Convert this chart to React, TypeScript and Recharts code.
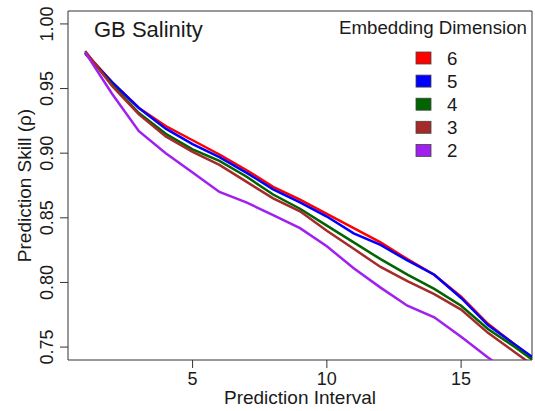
import React from "react";
import {
  LineChart, Line, XAxis, YAxis, ReferenceArea, Legend
} from "recharts";

const intervals = [1, 2, 3, 4, 5, 6, 7, 8, 9, 10, 11, 12, 13, 14, 15, 16, 17, 18];

const dim6 = [0.978, 0.955, 0.935, 0.921, 0.910, 0.899, 0.887, 0.874, 0.864, 0.853, 0.842, 0.831, 0.818, 0.806, 0.789, 0.768, 0.752, 0.736];
const dim5 = [0.977, 0.955, 0.935, 0.919, 0.907, 0.897, 0.885, 0.872, 0.862, 0.851, 0.838, 0.829, 0.817, 0.806, 0.788, 0.767, 0.752, 0.737];
const dim4 = [0.978, 0.953, 0.931, 0.915, 0.903, 0.894, 0.882, 0.868, 0.857, 0.844, 0.831, 0.818, 0.806, 0.795, 0.782, 0.764, 0.750, 0.735];
const dim3 = [0.979, 0.952, 0.930, 0.913, 0.901, 0.891, 0.878, 0.865, 0.855, 0.840, 0.826, 0.812, 0.801, 0.791, 0.779, 0.761, 0.746, 0.731];
const dim2 = [0.978, 0.946, 0.917, 0.900, 0.885, 0.870, 0.862, 0.852, 0.842, 0.828, 0.811, 0.796, 0.782, 0.773, 0.758, 0.742, 0.727, 0.712];

const xTicks = [5, 10, 15];
const yTicks = [0.75, 0.8, 0.85, 0.9, 0.95, 1.0];
const X_DOMAIN: [number, number] = [0.36, 17.64];
const Y_DOMAIN: [number, number] = [0.74, 1.01];

const SERIES = [
  { key: "d6", name: "6", color: "#FF0000", values: dim6 },
  { key: "d5", name: "5", color: "#0000FF", values: dim5 },
  { key: "d4", name: "4", color: "#006400", values: dim4 },
  { key: "d3", name: "3", color: "#A52A2A", values: dim3 },
  { key: "d2", name: "2", color: "#A020F0", values: dim2 },
];

const data = intervals.map((x, i) => {
  const row: any = { x };
  SERIES.forEach(s => { row[s.key] = s.values[i]; });
  return row;
});

const FONT = "'Liberation Sans', Arial, Helvetica, sans-serif";
const INK = "#1a1a1a";

function YTick({ x, y, payload }: any) {
  return (
    <text
      x={x} y={y}
      transform={`rotate(-90 ${x} ${y})`}
      textAnchor="middle"
      fontSize={18}
      fontFamily={FONT}
      fill={INK}
    >
      {payload.value.toFixed(2)}
    </text>
  );
}

function YTitle({ viewBox }: any) {
  const cx = viewBox.x + 31;
  const cy = viewBox.y + viewBox.height / 2;
  return (
    <text
      x={cx} y={cy}
      transform={`rotate(-90 ${cx} ${cy})`}
      textAnchor="middle"
      fontSize={19}
      fontFamily={FONT}
      fill={INK}
    >
      Prediction Skill (ρ)
    </text>
  );
}

function XTitle({ viewBox }: any) {
  return (
    <text
      x={viewBox.x + viewBox.width / 2}
      y={viewBox.y + 44}
      textAnchor="middle"
      fontSize={19}
      fontFamily={FONT}
      fill={INK}
    >
      Prediction Interval
    </text>
  );
}

function LegendBox() {
  return (
    <svg width={535} height={170} style={{ display: "block" }}>
      <text x={94} y={37} fontSize={22} fontFamily={FONT} fill={INK}>GB Salinity</text>
      <text x={527} y={34} textAnchor="end" fontSize={18.7} fontFamily={FONT} fill={INK}>
        Embedding Dimension
      </text>
      {SERIES.map((s, i) => (
        <g key={s.key}>
          <rect x={416} y={52 + i * 23.1} width={15} height={12} fill={s.color} stroke="#444" strokeWidth={0.8} />
          <text x={447} y={64.7 + i * 23.1} fontSize={18.7} fontFamily={FONT} fill={INK}>{s.name}</text>
        </g>
      ))}
    </svg>
  );
}

export default function App() {
  return (
    <div style={{ position: "absolute", left: 0, top: 0, background: "#fff" }}>
      <LineChart
        width={535}
        height={411}
        data={data}
        margin={{ top: 11, right: 3, bottom: 0, left: 0 }}
      >
        <XAxis
          dataKey="x"
          type="number"
          domain={X_DOMAIN}
          ticks={xTicks}
          allowDataOverflow
          height={51}
          tickSize={8}
          tickMargin={4}
          stroke="#333"
          tick={{ fill: INK, fontSize: 18, fontFamily: FONT }}
          axisLine={false}
          label={{ content: <XTitle /> }}
        />
        <YAxis
          type="number"
          domain={Y_DOMAIN}
          ticks={yTicks}
          allowDataOverflow
          width={68}
          tickSize={8}
          tickMargin={7}
          stroke="#333"
          tick={<YTick />}
          axisLine={false}
          label={{ content: <YTitle /> }}
        />
        <ReferenceArea
          x1={X_DOMAIN[0]} x2={X_DOMAIN[1]}
          y1={Y_DOMAIN[0]} y2={Y_DOMAIN[1]}
          fill="none" stroke="#333" strokeWidth={1}
          ifOverflow="visible"
        />
        <Legend
          layout="horizontal"
          verticalAlign="middle"
          wrapperStyle={{ top: 0, left: 0, width: 535 }}
          content={() => <LegendBox />}
        />
        {SERIES.map(s => (
          <Line
            key={s.key}
            dataKey={s.key}
            name={s.name}
            stroke={s.color}
            strokeWidth={2.5}
            dot={false}
            type="linear"
            isAnimationActive={false}
          />
        ))}
      </LineChart>
    </div>
  );
}
